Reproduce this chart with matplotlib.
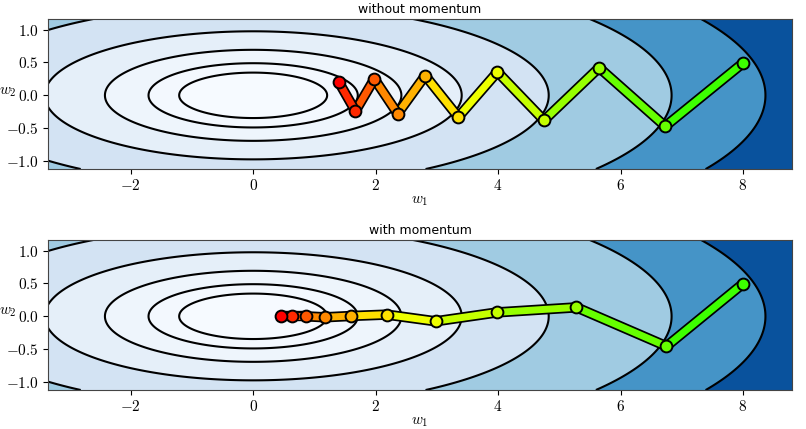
"""Gradient descent on an elongated quadratic bowl, with and without momentum."""
import matplotlib

matplotlib.use("Agg")
import matplotlib.pyplot as plt
import matplotlib.patheffects as pe
import numpy as np
from matplotlib.ticker import FuncFormatter

plt.rcParams["mathtext.fontset"] = "cm"

# iterates (start at w=(8, 0.5))
plain_w1 = [8.0, 6.73, 5.65, 4.75, 3.99, 3.35, 2.81, 2.36, 1.98, 1.67, 1.40]
plain_w2 = [0.49, -0.47, 0.42, -0.38, 0.355, -0.33, 0.30, -0.28, 0.25, -0.24, 0.20]
mom_w1 = [8.0, 6.75, 5.28, 3.99, 2.98, 2.18, 1.60, 1.17, 0.86, 0.63, 0.45]
mom_w2 = [0.495, -0.455, 0.136, 0.06, -0.076, 0.026, 0.005, -0.015, 0.0, 0.0, 0.0]

# loss surface f = w1^2 + 12.25 w2^2, contour levels read from the ellipses
aspect = 12.25
line_levels = [1.46, 2.92, 5.86, 11.6, 23.3, 46.7, 70.0]
fill_levels = [0.0] + line_levels + [95.0]

xlim = (-3.35, 8.8)
ylim = (-1.12, 1.16)

g1, g2 = np.meshgrid(np.linspace(*xlim, 500), np.linspace(*ylim, 300))
loss = g1 ** 2 + aspect * g2 ** 2


def path_colors(n):
    return [plt.cm.hsv(0.3 * (n - 1 - i) / (n - 1)) for i in range(n)]


def draw(ax, w1, w2, title):
    ax.contourf(g1, g2, loss, levels=fill_levels, cmap="Blues")
    ax.contour(g1, g2, loss, levels=line_levels, colors="k", linewidths=1.5)
    cols = path_colors(len(w1))
    for i in range(len(w1) - 1):
        ax.plot(w1[i:i + 2], w2[i:i + 2], color=cols[i], lw=5, solid_capstyle="round",
                path_effects=[pe.Stroke(linewidth=7.5, foreground="k"), pe.Normal()], zorder=3)
    for i in range(len(w1)):
        ax.plot(w1[i], w2[i], "o", ms=8.5, mfc=cols[i], mec="k", mew=1.4, zorder=4)
    ax.set_xlim(*xlim)
    ax.set_ylim(*ylim)
    ax.set_xticks([-2, 0, 2, 4, 6, 8])
    ax.set_yticks([-1.0, -0.5, 0.0, 0.5, 1.0])
    ax.xaxis.set_major_formatter(FuncFormatter(lambda v, _: f"${v:g}$"))
    ax.yaxis.set_major_formatter(FuncFormatter(lambda v, _: f"${v:.1f}$"))
    ax.tick_params(labelsize=11, pad=3)
    ax.set_xlabel("$w_1$", fontsize=11, labelpad=0)
    ax.set_ylabel("$w_2$", fontsize=11, rotation=0, ha="center", va="bottom")
    ax.yaxis.set_label_coords(-0.054, 0.47)
    ax.set_title(title, fontsize=9, pad=4)
    for s in ax.spines.values():
        s.set_color("#444444")


fig = plt.figure(figsize=(8.06, 4.29), dpi=100)
ax_top = fig.add_axes([0.0596, 0.606, 0.923, 0.3497])
ax_bot = fig.add_axes([0.0596, 0.0909, 0.923, 0.3497])
draw(ax_top, plain_w1, plain_w2, "without momentum")
draw(ax_bot, mom_w1, mom_w2, "with momentum")

fig.savefig("out.png", dpi=100)
plt.close()
